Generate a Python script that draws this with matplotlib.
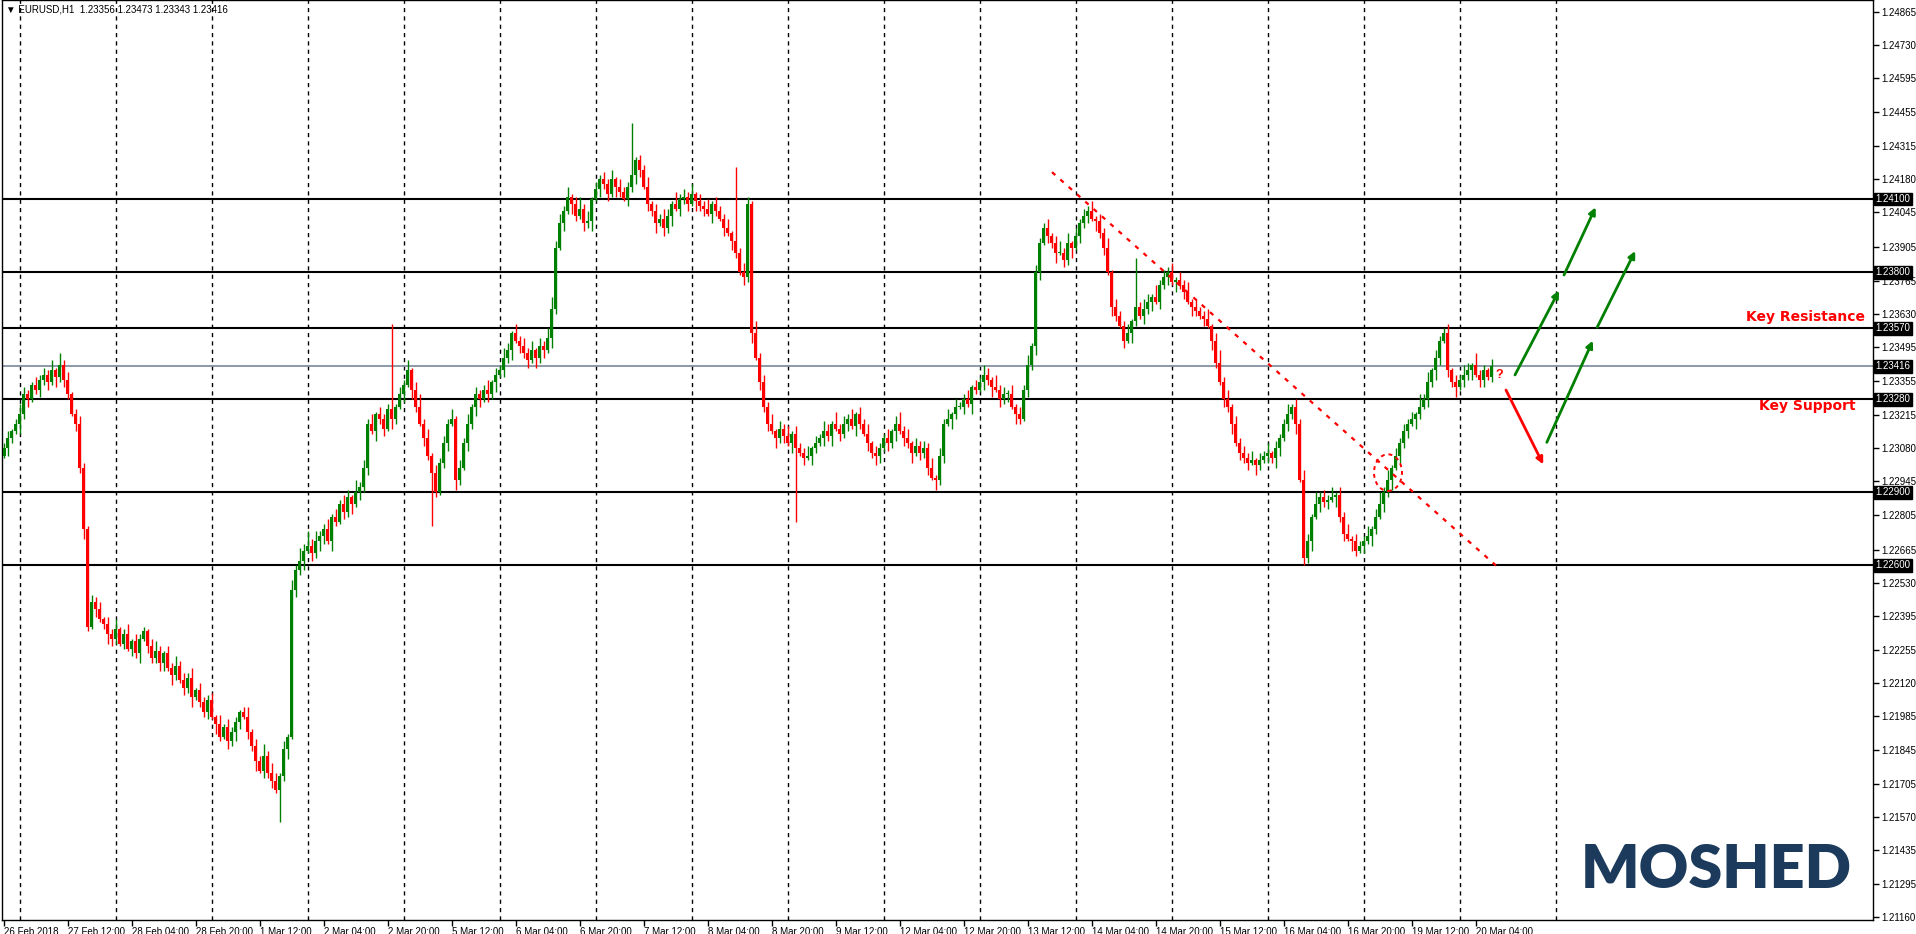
import numpy as np
import matplotlib
matplotlib.use("Agg")
import matplotlib.pyplot as plt
from matplotlib.patches import Ellipse
import matplotlib.transforms as mtransforms

##############################
#    Chart data (EURUSD H1)  #

# closes in pips above 1.2000
closes = [308,312,315,318,322,330,328,334,332,336,
          338,335,340,337,342,336,330,322,318,300,
          275,235,245,242,238,236,232,230,234,228,
          232,226,229,224,230,233,227,222,225,220,
          224,218,215,219,213,210,214,206,209,204,
          200,205,198,195,190,194,188,192,196,200,
          198,192,186,180,176,182,175,172,168,174,
          185,190,250,258,262,266,268,265,270,272,
          275,270,280,278,285,282,288,285,290,292,
          300,318,315,322,320,316,324,320,325,330,
          334,340,332,325,318,312,305,298,290,302,
          310,318,320,295,300,310,318,325,330,328,
          332,330,335,338,340,345,348,355,352,350,
          347,344,348,345,350,348,353,365,390,400,
          405,411,408,403,406,400,401,410,414,418,
          416,412,418,415,413,410,415,420,426,422,
          415,408,405,400,402,398,403,408,406,410,
          411,408,412,409,407,406,404,408,405,402,
          398,396,393,388,380,378,408,355,345,335,
          325,318,315,312,316,313,310,314,308,306,
          304,305,308,310,312,315,313,318,316,
          314,318,320,317,322,318,314,310,306,305,
          308,312,310,315,318,315,312,310,306,309,
          306,308,300,296,295,305,318,320,322,325,
          325,328,326,333,332,335,338,336,333,
          332,328,330,330,325,322,320,332,342,350,
          380,392,398,395,392,388,388,385,392,390,
          395,400,403,405,402,401,396,390,380,366,
          362,358,352,355,360,366,362,365,368,
          370,368,375,378,380,376,377,375,372,
          368,366,364,362,361,358,352,343,335,328,
          325,318,310,306,304,302,303,301,303,
          305,306,304,308,312,318,322,325,318,
          295,263,270,280,285,288,286,287,288,289,
          280,273,271,270,266,268,270,272,275,
          280,285,290,295,300,305,310,315,318,320,
          322,325,328,335,340,345,352,355,340,
          335,333,336,338,340,342,338,336,340,337,341.6]
first_open = 305

# wick lengths in pips (base 36 digits), upper and lower
upper_wicks = ("2312432132" "3241523123" "2132313241" "2413221342" "1324232413"
               "2231413221" "2413252431" "3142536342" "2413243152" "3241322z13"
               "2413524132" "3241324132" "2413243142" "3241324534" "2413524132"
               "3241322l12" "2413243152" "3241324132" "241u243152" "3241324132"
               "2413243152" "3241324132" "2413524132" "3241324132" "2413243152"
               "3241324132" "2413524132" "3241324132" "241k243152" "3241324132"
               "2413524132" "3241324132" "2413243152" "3241324132" "2413524132"
               "3231524132" "2413243152" "213")
lower_wicks = ("1321423123" "2314232132" "4213124321" "2132413223" "3142132412"
               "2314213243" "132413231d" "2413241324" "3142132413" "2314231421"
               "3142132m21" "2314213243" "1324132413" "2314231421" "3142132413"
               "2314213243" "1324132413" "2314231421" "3142132413" "23142314u1"
               "3142132413" "2314213243" "1324132413" "2314231421" "3142132413"
               "2314213243" "1324132413" "2314231421" "3142132413" "2314231421"
               "3142132413" "2314213243" "1324132413" "2314231421" "3142132413"
               "2314213243" "1324132413" "312")

levels = [1.24100, 1.23800, 1.23570, 1.23280, 1.22900, 1.22600]
current_price = 1.23416

ytick_values = [1.24865, 1.24730, 1.24595, 1.24455, 1.24315, 1.24180, 1.24045,
                1.23905, 1.23765, 1.23630, 1.23495, 1.23355, 1.23215, 1.23080,
                1.22945, 1.22805, 1.22665, 1.22530, 1.22395, 1.22255, 1.22120,
                1.21985, 1.21845, 1.21705, 1.21570, 1.21435, 1.21295, 1.21160]

xtick_labels = ["26 Feb 2018", "27 Feb 12:00", "28 Feb 04:00", "28 Feb 20:00",
                "1 Mar 12:00", "2 Mar 04:00", "2 Mar 20:00", "5 Mar 12:00",
                "6 Mar 04:00", "6 Mar 20:00", "7 Mar 12:00", "8 Mar 04:00",
                "8 Mar 20:00", "9 Mar 12:00", "12 Mar 04:00", "12 Mar 20:00",
                "13 Mar 12:00", "14 Mar 04:00", "14 Mar 20:00", "15 Mar 12:00",
                "16 Mar 04:00", "16 Mar 20:00", "19 Mar 12:00", "20 Mar 04:00"]

#    Chart data (EURUSD H1)  #
##############################

FONT = "Liberation Sans"

c = 1.2 + np.array(closes) / 10000
o = np.concatenate([[1.2 + first_open / 10000], c[:-1]])
uw = np.array([int(ch, 36) for ch in upper_wicks[:len(c)]]) / 10000
lw = np.array([int(ch, 36) for ch in lower_wicks[:len(c)]]) / 10000
hi = np.maximum(o, c) + uw
lo = np.minimum(o, c) - lw
n = len(c)
x = np.arange(n)

W, H = 1916, 934
fig = plt.figure(figsize=(W / 100, H / 100), dpi=100)
ax = fig.add_axes([2 / W, 1 - 920 / H, (1873 - 2) / W, 920 / H])
ax.set_xlim(-0.5, 467.25)
ax.set_ylim(1.241 - (920 - 199) / 24433, 1.241 + 199 / 24433)

# daily separators
for b in range(4, 390, 24):
    ax.axvline(b, color="black", lw=1, ls=(0, (3, 3)), zorder=1)

# horizontal levels
for lv in levels:
    ax.axhline(lv, color="black", lw=1.5, zorder=2)
ax.axhline(current_price, color="#778899", lw=1.2, zorder=2)

# candles
up = c >= o
col = np.where(up, "#008000", "#ff0000")
ax.vlines(x, lo, hi, colors=col, lw=1, zorder=3)
body_h = np.maximum(np.abs(c - o), 0.00004)
ax.bar(x, body_h, bottom=np.minimum(o, c), width=0.75, color=col, lw=0, zorder=4)

# trendline and circle
ax.plot([262, 373], [1.2421, 1.2260], color="#ff0000", lw=1.6, ls=(0, (2, 3)), zorder=5)
ax.add_patch(Ellipse((346, 1.2298), 7, 0.0015, fill=False, ec="#ff0000", lw=1.4,
                     ls=(0, (2, 2)), zorder=5))

# scenario arrows
arrows = [((377.75, 1.23380), (388.75, 1.23725), "#008000"),
          ((390.0, 1.23789), (397.9, 1.24066), "#008000"),
          ((385.7, 1.23104), (397.2, 1.23520), "#008000"),
          ((398.3, 1.23575), (407.8, 1.23887), "#008000"),
          ((375.5, 1.23318), (384.8, 1.23014), "#ff0000")]
for (x0, y0), (x1, y1), cc in arrows:
    ax.annotate("", xy=(x1, y1), xytext=(x0, y0),
                arrowprops=dict(arrowstyle="-|>", color=cc, lw=2, mutation_scale=10,
                                shrinkA=0, shrinkB=0), zorder=6)
ax.text(373.7, 1.2338, "?", color="#ff0000", fontsize=9, fontweight="bold",
        ha="center", va="center", family=FONT)

ax.text(465.3, 1.23618, "Key Resistance", color="#ff0000", fontsize=10,
        fontweight="bold", ha="right", va="center", family="DejaVu Sans")
ax.text(463, 1.23253, "Key Support", color="#ff0000", fontsize=10,
        fontweight="bold", ha="right", va="center", family="DejaVu Sans")

# axes styling
for s in ["top", "left", "right", "bottom"]:
    ax.spines[s].set_color("black")
    ax.spines[s].set_linewidth(1)
ax.yaxis.tick_right()
ax.set_yticks(ytick_values)
ax.set_yticklabels(["%.5f" % v for v in ytick_values], fontsize=7, family=FONT)
ax.set_xticks(np.arange(0, 16 * len(xtick_labels), 16))
ax.set_xticklabels(xtick_labels, fontsize=7, ha="left", family=FONT)
ax.tick_params(axis="both", length=4, width=1, pad=1)
ax.tick_params(axis="y", pad=2)

# boxed level labels on the price scale
trans = mtransforms.blended_transform_factory(ax.transAxes, ax.transData)
for lv in levels + [current_price]:
    ax.text(1.0015, lv, "%.5f" % lv, transform=trans, fontsize=7, color="white",
            ha="left", va="center", zorder=10, clip_on=False, family=FONT,
            bbox=dict(boxstyle="square,pad=0.15", fc="black", ec="black"))

fig.text(6 / W, 1 - 10 / H, "\u25bc EURUSD,H1  1.23356 1.23473 1.23343 1.23416",
         fontsize=7, ha="left", va="center", family=[FONT, "DejaVu Sans"])
fig.text(1852 / W, 1 - 870 / H, "MOSHED", fontsize=44, fontweight="heavy",
         color="#1b3a5c", ha="right", va="center", family="Lato")

fig.savefig("out.png", dpi=100)
